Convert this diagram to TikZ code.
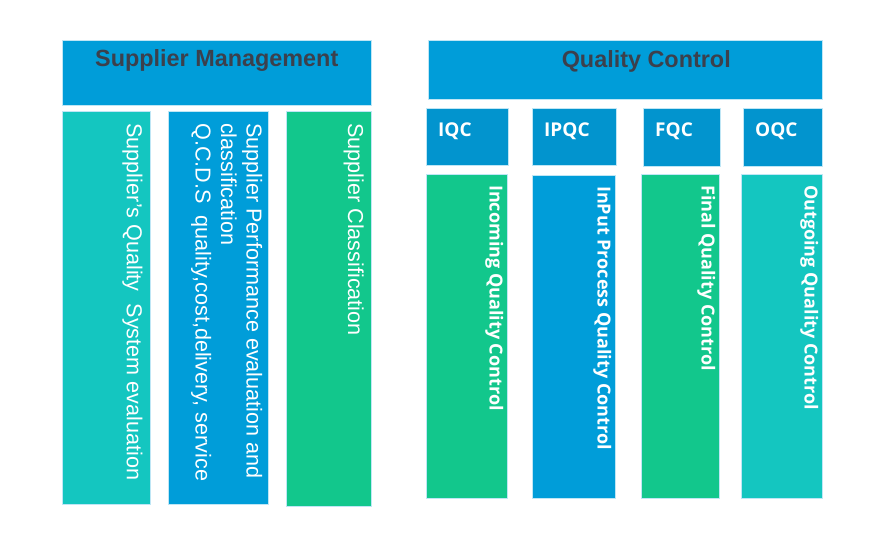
\documentclass[tikz,border=0pt]{standalone}
\usepackage{fontspec}
\setmainfont{Liberation Sans}
\newfontfamily\qcfont{Open Sans}
\usetikzlibrary{positioning}

\definecolor{qblue}{RGB}{0,157,217}
\definecolor{qtagblue}{RGB}{2,148,206}
\definecolor{qteal}{RGB}{20,198,192}
\definecolor{qgreen}{RGB}{18,199,140}
\definecolor{headgrey}{RGB}{60,64,76}

\begin{document}
\begin{tikzpicture}
	[x=1pt, y=-1pt,
	 box/.style={draw=white!75!qblue, line width=0.5pt, inner sep=0, anchor=north west},
	 headtext/.style={anchor=base, inner sep=0, text=headgrey, font=\bfseries\fontsize{23.4}{28}\selectfont},
	 coltext/.style={rotate=-90, anchor=base west, inner sep=0, text=white, font=\fontsize{21.6}{25.5}\selectfont},
	 qctext/.style={rotate=-90, anchor=base west, inner sep=0, text=white, font=\qcfont\bfseries\fontsize{18}{22}\selectfont},
	 tagtext/.style={anchor=base west, inner sep=0, text=white, font=\qcfont\bfseries\fontsize{19}{22}\selectfont}]
   \useasboundingbox (0,0) rectangle (885,534);
   % supplier management
   \node[box, fill=qblue, minimum width=309pt, minimum height=65pt] (suphead) at (62,40) {};
   \node[headtext] (suptitle) at ([yshift=-27pt]suphead.north) {Supplier Management};
   \node[box, fill=qteal, minimum width=88pt, minimum height=393pt] (sqs) at (62,111) {};
   \node[box, fill=qblue, minimum width=100pt, minimum height=393pt] (spe) at (168,111) {};
   \node[box, fill=qgreen, minimum width=85pt, minimum height=395pt] (scl) at (286,111) {};
   \node[coltext] (sqstext) at ([xshift=-23.7pt, yshift=-12pt]sqs.north east) {Supplier’s Quality~ System evaluation};
   \node[coltext, anchor=north west, align=left] (spetext) at ([xshift=-6pt, yshift=-12pt]spe.north east)
      {Supplier Performance evaluation and\\classification\\Q.C.D.S~ quality,cost,delivery, service};
   \node[coltext] (scltext) at ([xshift=-23.4pt, yshift=-12pt]scl.north east) {Supplier Classification};
   % quality control
   \node[box, fill=qblue, minimum width=394pt, minimum height=59pt] (qchead) at (428,40) {};
   \node[headtext] (qctitle) at ([xshift=21pt, yshift=-28pt]qchead.north) {Quality Control};
   \node[box, fill=qtagblue, minimum width=82pt, minimum height=57pt] (iqc) at (426,108) {};
   \node[box, fill=qtagblue, minimum width=84pt, minimum height=57pt] (ipqc) at (532,108) {};
   \node[box, fill=qtagblue, minimum width=77pt, minimum height=58pt] (fqc) at (643,108) {};
   \node[box, fill=qtagblue, minimum width=79pt, minimum height=58pt] (oqc) at (743,108) {};
   \node[tagtext] (iqctag) at ([xshift=12pt, yshift=-29pt]iqc.north west) {IQC};
   \node[tagtext] (ipqctag) at ([xshift=12pt, yshift=-29pt]ipqc.north west) {IPQC};
   \node[tagtext] (fqctag) at ([xshift=12pt, yshift=-29pt]fqc.north west) {FQC};
   \node[tagtext] (oqctag) at ([xshift=12pt, yshift=-29pt]oqc.north west) {OQC};
   \node[box, fill=qgreen, minimum width=81pt, minimum height=324pt] (iqcbody) at (426,174) {};
   \node[box, fill=qblue, minimum width=83pt, minimum height=323pt] (ipqcbody) at (532,175) {};
   \node[box, fill=qgreen, minimum width=78pt, minimum height=324pt] (fqcbody) at (641,174) {};
   \node[box, fill=qteal, minimum width=81pt, minimum height=324pt] (oqcbody) at (741,174) {};
   \node[qctext] (iqctext) at ([xshift=-18pt, yshift=-11pt]iqcbody.north east) {Incoming Quality Control};
   \node[qctext] (ipqctext) at ([xshift=-18pt, yshift=-11pt]ipqcbody.north east) {InPut Process Quality Control};
   \node[qctext] (fqctext) at ([xshift=-18pt, yshift=-11pt]fqcbody.north east) {Final Quality Control};
   \node[qctext] (oqctext) at ([xshift=-18pt, yshift=-11pt]oqcbody.north east) {Outgoing Quality Control};
\end{tikzpicture}
\end{document}
